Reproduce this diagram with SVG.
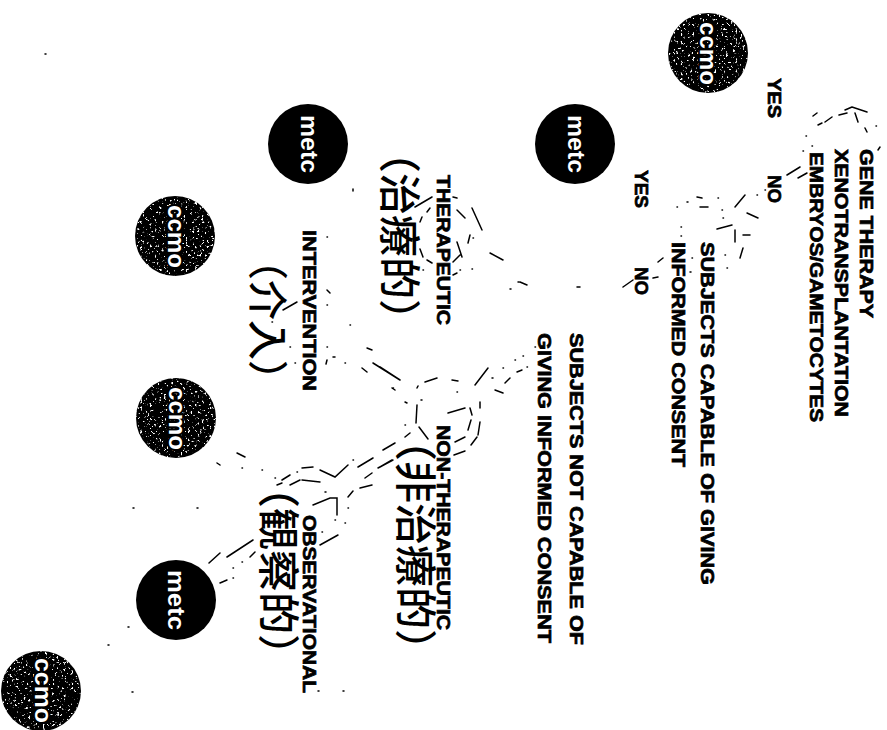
<svg xmlns="http://www.w3.org/2000/svg" width="887" height="730" viewBox="0 0 887 730">
<style>
.l{font-family:"Liberation Sans",Arial,sans-serif;font-weight:700;font-size:18px;fill:#000;stroke:#000;stroke-width:.7}
.c{font-family:"Noto Sans CJK TC","Noto Sans CJK SC",sans-serif;font-size:42px;font-weight:500;fill:#000}
.n{font-family:"Liberation Sans",Arial,sans-serif;font-weight:700;font-size:24px;fill:#fff}
.k{stroke:#000;stroke-width:4px;paint-order:stroke}
.f{fill:none;stroke:#000;stroke-width:1.5;stroke-linecap:round}
</style>
<defs>
<filter id="spk" x="0" y="0" width="1" height="1" color-interpolation-filters="sRGB">
<feTurbulence type="fractalNoise" baseFrequency="0.42" numOctaves="2" seed="4" result="t"/>
<feColorMatrix in="t" type="matrix" values="0 0 0 0 1 0 0 0 0 1 0 0 0 0 1 10 0 0 0 -6.2" result="w"/>
<feComposite in="w" in2="SourceAlpha" operator="in" result="s"/>
<feMerge><feMergeNode in="SourceGraphic"/><feMergeNode in="s"/></feMerge>
</filter>
</defs>
<g id="connectors"><path class="f" d="M45 54h1M813 116L817 113M818 125L822 123M825 122L832 117M839 115L847 113M845 110L852 107M852 107L867 112M855 113L858 122M865 128L867 132M876 126h.5M880 147L878 150M806 136h.5M803 151h.5M812 146h.5M787 175L800 167M798 178L807 173
M735 207L745 195M757 195h.5M765 190h.5M747 213L758 218M723 218h.5M718 198h.5M722 210h.5M687 202h1M697 197L702 198M700 207L708 207M677 207h.5M717 229L732 225M735 230L735 242M743 235L750 235M725 255h.5M740 258L743 248M727 268h.5M692 258h.5M690 272h1M681 227h.5M681 236h.5M658 262L663 258M653 278L658 277M633 280L623 287M577 287h3M520 282L527 285
M415 207L432 197M420 222L422 217M427 212L430 208M453 197L457 198M457 210L465 218M472 208L482 230M468 243L470 235M473 238h.5M457 242L462 257M453 262L460 255M420 249L423 257M427 260L432 263M423 270h.5M453 275L457 273M460 270h.5M472 269h.5M490 253L503 260M518 282h1M510 289h1
M380 367L400 380M392 388L395 390M417 388L418 386M425 382L437 378M452 380L458 381M475 385L488 368M492 378h1M495 390L503 393M505 383L510 378M503 368h.5M515 360h.5M523 356h.5M517 372L522 370M527 367h.5M535 347h.5M421 400h1M417 405L416 423M419 427L428 439M405 402L407 403M405 425h.5M405 437L410 433M448 413L465 408M470 408L472 415M471 420L468 430M455 442L465 437M480 402L480 408M480 422L478 435M471 445L477 437M454 455L465 451M457 392h.5M383 450L395 443M380 467L392 460
M237 453L245 457M217 463L220 465M242 468h.5M262 470h.5M275 478h.5M277 485L282 483M282 480L290 475M297 472h.5M302 468L313 467M320 470L335 477L348 465M353 460h.5M358 467L373 458M378 468L393 460M365 478L372 473M360 488L372 485M348 497L353 491M348 508h.5M290 485L300 480M302 480L320 482M313 505L330 498L337 498L337 515M325 492h1M335 520h.5M345 523h.5M320 545L338 535M322 532h.5
M227 557L253 540M209 563L220 553M250 557L255 552M242 562h.5M233 568h.5M220 583L227 580M233 578h.5
M327 290L330 293M327 237h.5M353 189v2M283 310L297 302M272 322h.5M327 305h.5M350 325h.5M327 347h.5M345 363h.5M367 348L372 350M362 368L367 372M373 363L400 380M393 388h.5M333 357h2M327 360L326 364M295 363h.5M290 347h.5
M133 508h1M197 508h1M128 627h1M108 645h1M132 692h1M318 691h1M343 691h1"/></g>
<g id="ccmo1"><circle cx="708" cy="53" r="40" fill="#000" filter="url(#spk)"/><text class="n k" textLength="63" lengthAdjust="spacingAndGlyphs" transform="translate(700,22) rotate(90)">ccmo</text></g>
<g id="metc1"><circle cx="575" cy="144" r="40" fill="#000"/><text class="n" textLength="58" lengthAdjust="spacingAndGlyphs" transform="translate(568,115) rotate(90)">metc</text></g>
<g id="metc2"><circle cx="308" cy="144" r="40" fill="#000"/><text class="n" textLength="58" lengthAdjust="spacingAndGlyphs" transform="translate(301,115) rotate(90)">metc</text></g>
<g id="ccmo2"><circle cx="175" cy="236" r="40" fill="#000" filter="url(#spk)"/><text class="n k" textLength="63" lengthAdjust="spacingAndGlyphs" transform="translate(168,205) rotate(90)">ccmo</text></g>
<g id="ccmo3"><circle cx="176" cy="418" r="40" fill="#000" filter="url(#spk)"/><text class="n k" textLength="63" lengthAdjust="spacingAndGlyphs" transform="translate(169,387) rotate(90)">ccmo</text></g>
<g id="metc3"><circle cx="176" cy="600" r="40" fill="#000"/><text class="n" textLength="60" lengthAdjust="spacingAndGlyphs" transform="translate(168,570) rotate(90)">metc</text></g>
<g id="ccmo4"><circle cx="41" cy="691" r="40" fill="#000" filter="url(#spk)"/><text class="n k" textLength="65" lengthAdjust="spacingAndGlyphs" transform="translate(35,658) rotate(90)">ccmo</text></g>
<g id="n-gene">
<text class="l" textLength="169" lengthAdjust="spacingAndGlyphs" transform="translate(860,149) rotate(90)">GENE THERAPY</text>
<text class="l" textLength="268" lengthAdjust="spacingAndGlyphs" transform="translate(835,149) rotate(90)">XENOTRANSPLANTATION</text>
<text class="l" textLength="270" lengthAdjust="spacingAndGlyphs" transform="translate(810,152) rotate(90)">EMBRYOS/GAMETOCYTES</text>
</g>
<g id="n-yes1"><text class="l" textLength="40" lengthAdjust="spacingAndGlyphs" transform="translate(768,78) rotate(90)">YES</text></g>
<g id="n-no1"><text class="l" textLength="28" lengthAdjust="spacingAndGlyphs" transform="translate(768,175) rotate(90)">NO</text></g>
<g id="n-yes2"><text class="l" textLength="38" lengthAdjust="spacingAndGlyphs" transform="translate(635,170) rotate(90)">YES</text></g>
<g id="n-no2"><text class="l" textLength="28" lengthAdjust="spacingAndGlyphs" transform="translate(635,267) rotate(90)">NO</text></g>
<g id="n-capable">
<text class="l" textLength="343" lengthAdjust="spacingAndGlyphs" transform="translate(701,242) rotate(90)">SUBJECTS CAPABLE OF GIVING</text>
<text class="l" textLength="225" lengthAdjust="spacingAndGlyphs" transform="translate(672,242) rotate(90)">INFORMED CONSENT</text>
</g>
<g id="n-notcapable">
<text class="l" textLength="312" lengthAdjust="spacingAndGlyphs" transform="translate(570,333) rotate(90)">SUBJECTS NOT CAPABLE OF</text>
<text class="l" textLength="310" lengthAdjust="spacingAndGlyphs" transform="translate(538,333) rotate(90)">GIVING INFORMED CONSENT</text>
</g>
<g id="n-ther"><text class="l" textLength="150" lengthAdjust="spacingAndGlyphs" transform="translate(437,175) rotate(90)">THERAPEUTIC</text><text class="c" transform="translate(384,131) rotate(90)">（治療的）</text></g>
<g id="n-int"><text class="l" textLength="161" lengthAdjust="spacingAndGlyphs" transform="translate(303,230) rotate(90)">INTERVENTION</text><text class="c" style="font-size:40px" transform="translate(253,240) rotate(90)">（介入）</text></g>
<g id="n-non"><text class="l" textLength="205" lengthAdjust="spacingAndGlyphs" transform="translate(437,425) rotate(90)">NON-THERAPEUTIC</text><text class="c" transform="translate(400,419) rotate(90)">（非治療的）</text></g>
<g id="n-obs"><text class="l" textLength="178" lengthAdjust="spacingAndGlyphs" transform="translate(303,515) rotate(90)">OBSERVATIONAL</text><text class="c" transform="translate(263,466) rotate(90)">（観察的）</text></g>
</svg>
